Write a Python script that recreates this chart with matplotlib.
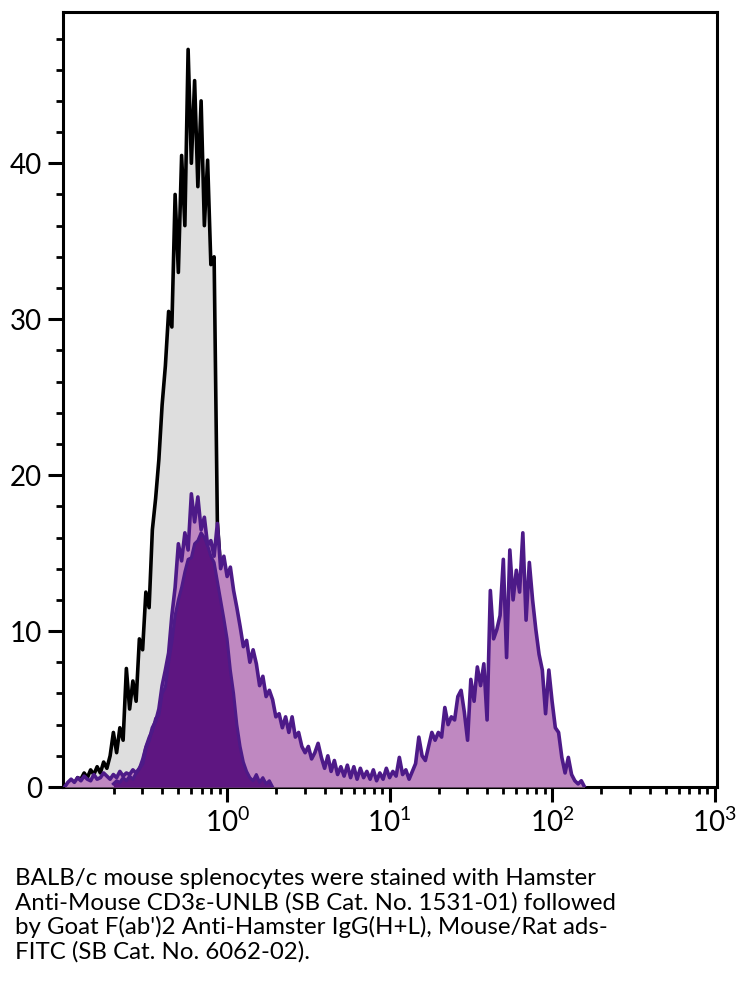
import numpy as np
import matplotlib
matplotlib.use("Agg")
import matplotlib.pyplot as plt
from matplotlib.ticker import LogLocator, MultipleLocator, NullFormatter

plt.rcParams['font.family'] = ['Lato', 'DejaVu Sans']
plt.rcParams['mathtext.fontset'] = 'custom'
plt.rcParams['mathtext.rm'] = 'Lato'

# histogram channels, 0.02 decade wide
step = 0.02

# isotype / unstained control (grey), starts at log10 = -1.00
ctrl_start = -1.00
ctrl = [0, 0.2, 0.4, 0.2, 0.6, 0.5, 0.9, 0.6, 1.1, 0.8, 1.3, 0.9, 1.6, 1.2, 2.0,
        3.5, 2.2, 3.8, 3.0, 7.6, 5.0, 6.8, 5.5, 9.5, 8.8, 12.5, 11.5, 16.5, 18.5,
        21.0, 24.5, 27.0, 30.5, 29.5, 38.0, 33.0, 40.5, 36.0, 47.3, 40.0, 45.3,
        38.5, 44.0, 36.0, 40.2, 33.5, 34.0, 17.0, 14.0, 10.0, 6.0, 3.5, 1.5, 0.5, 0]

# CD3e stained sample (light purple), starts at log10 = -1.00
stained_start = -1.00
stained = [0, 0.3, 0.5, 0.3, 0.6, 0.4, 0.7, 0.5, 0.4, 0.8, 0.5, 0.6, 0.9, 0.7,
           0.5, 0.8, 0.6, 1.0, 0.7, 0.9, 0.8, 1.1, 0.9,
           1.2, 1.5, 2.5, 3.0, 3.8, 4.2, 5.0, 6.5, 7.5, 8.6, 11.0, 12.8, 15.6,
           14.5, 16.3, 15.2, 18.8, 17.0, 18.6, 16.5, 17.3, 15.5, 15.8, 14.8,
           16.9, 14.0, 14.8, 13.5, 14.1, 12.6, 11.5, 10.3, 9.0, 9.4, 8.0, 8.8,
           7.9, 6.5, 7.1, 5.8, 6.2, 5.6, 4.5, 4.7, 3.8, 4.5, 3.5, 4.5, 3.2, 3.5,
           2.6, 2.2, 2.6, 1.8, 2.2, 2.8, 1.9, 1.2, 2.0, 1.0, 1.7, 0.8, 1.3, 0.7,
           1.4, 0.6, 1.3, 0.5, 1.2, 0.6, 1.0, 0.5, 1.1, 0.4, 0.9, 0.5, 1.2, 0.6,
           1.0, 0.7, 1.9, 0.8, 1.1, 0.5, 1.0, 1.5, 3.2, 2.0, 1.7, 2.6, 3.5, 3.0,
           3.5, 3.2, 5.1, 4.0, 4.5, 4.3, 5.8, 6.2, 4.8, 3.0, 6.9, 5.5, 7.7, 6.5,
           7.9, 4.3, 12.6, 9.5, 10.1, 11.0, 14.6, 8.3, 15.2, 12.0, 13.9, 12.5,
           16.3, 10.7, 14.4, 12.0, 10.1, 8.5, 7.5, 4.7, 7.5, 5.5, 3.8, 3.5, 1.9,
           0.9, 1.9, 0.8, 0.4, 0.2, 0.4, 0]

# secondary-only control (dark purple), starts at log10 = -0.70
second_start = -0.70
second = [0.2, 0.4, 0.3, 0.6, 0.4, 0.7, 0.5, 0.9, 1.2, 1.8, 2.6, 3.2, 3.6, 4.4,
          4.6, 6.0, 6.4, 8.0, 9.3, 11.0, 12.0, 12.8, 13.8, 14.6, 14.7, 15.6,
          15.8, 16.3, 16.0, 15.5, 14.8, 14.4, 13.2, 12.0, 10.8, 9.5, 7.5, 6.0,
          4.0, 2.6, 1.6, 1.0, 0.6, 0.4, 0.8, 0.3, 0.6, 0.2, 0.4, 0]

caption = ("BALB/c mouse splenocytes were stained with Hamster\n"
           "Anti-Mouse CD3\u03b5-UNLB (SB Cat. No. 1531-01) followed\n"
           "by Goat F(ab')2 Anti-Hamster IgG(H+L), Mouse/Rat ads-\n"
           "FITC (SB Cat. No. 6062-02).")


def channels(start, vals):
    return 10 ** (start + step * np.arange(len(vals)))


line_col = '#4d1a88'

fig = plt.figure(figsize=(7.44, 9.82), dpi=100)
ax = fig.add_axes([63 / 744, 1 - 787 / 982, (717 - 63) / 744, (787 - 12) / 982])

x = channels(ctrl_start, ctrl)
ax.fill_between(x, ctrl, 0, color='#dedede', lw=0, zorder=1)
ax.plot(x, ctrl, color='black', lw=2.6, zorder=2)

x = channels(stained_start, stained)
ax.fill_between(x, stained, 0, color='#bf88c1', lw=0, zorder=3)
x2 = channels(second_start, second)
ax.fill_between(x2, second, 0, color='#5e1681', lw=0, zorder=4)
ax.plot(x2, second, color=line_col, lw=2.2, zorder=5)
ax.plot(x, stained, color=line_col, lw=2.6, zorder=6)

ax.set_xscale('log')
ax.set_xlim(10 ** -1.01, 10 ** 3.015)
ax.set_ylim(0, 49.7)

ax.xaxis.set_minor_locator(LogLocator(base=10, subs=np.arange(2, 10), numticks=20))
ax.xaxis.set_minor_formatter(NullFormatter())
ax.set_xticks([1, 10, 100, 1000])
ax.set_xticklabels([r'$\mathregular{10^{0}}$', r'$\mathregular{10^{1}}$',
                    r'$\mathregular{10^{2}}$', r'$\mathregular{10^{3}}$'])
ax.yaxis.set_major_locator(MultipleLocator(10))
ax.yaxis.set_minor_locator(MultipleLocator(2))

ax.tick_params(which='major', direction='out', length=11, width=2.2,
               labelsize=20, pad=4, color='black')
ax.tick_params(which='minor', direction='out', length=5, width=2.0, color='black')
for s in ax.spines.values():
    s.set_linewidth(2.2)

fig.text(15 / 744, 1 - 868 / 982, caption, ha='left', va='top',
         fontsize=17.3, linespacing=1.15)

fig.savefig('out.png', dpi=100)
